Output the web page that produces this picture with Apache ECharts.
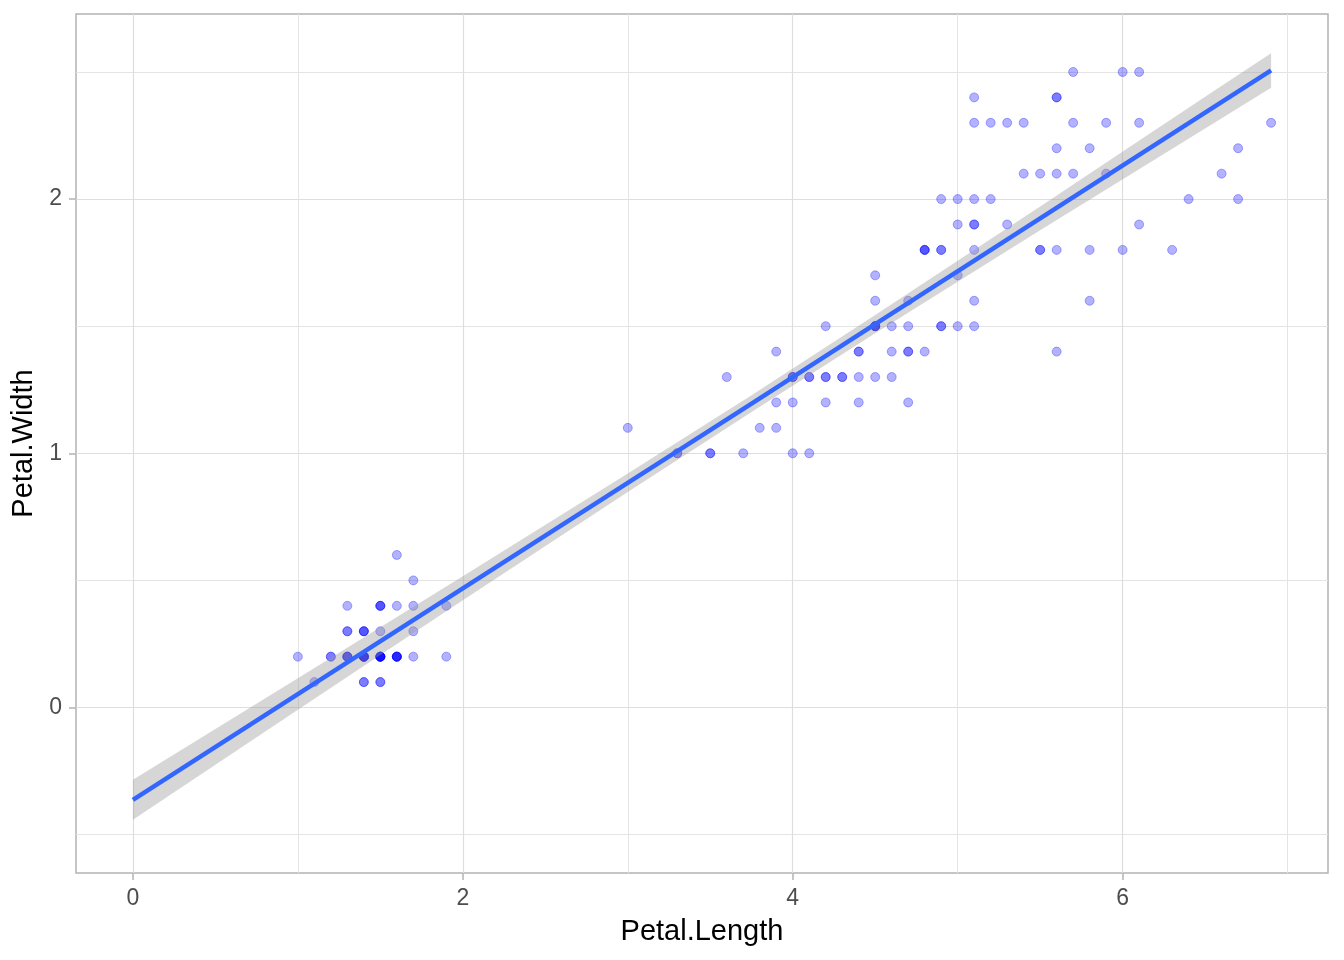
<!DOCTYPE html>
<html>
<head>
<meta charset="utf-8">
<script src="https://cdn.jsdelivr.net/npm/echarts@6/dist/echarts.min.js"></script>
<style>html,body{margin:0;padding:0;background:#fff}#chart{width:1344px;height:960px}</style>
</head>
<body>
<div id="chart"></div>
<script>
// iris: Petal.Length / Petal.Width
const petalLength = [
  1.4,1.4,1.3,1.5,1.4,1.7,1.4,1.5,1.4,1.5,
  1.5,1.6,1.4,1.1,1.2,1.5,1.3,1.4,1.7,1.5,
  1.7,1.5,1.0,1.7,1.9,1.6,1.6,1.5,1.4,1.6,
  1.6,1.5,1.5,1.4,1.5,1.2,1.3,1.4,1.3,1.5,
  1.3,1.3,1.3,1.6,1.9,1.4,1.6,1.4,1.5,1.4,
  4.7,4.5,4.9,4.0,4.6,4.5,4.7,3.3,4.6,3.9,
  3.5,4.2,4.0,4.7,3.6,4.4,4.5,4.1,4.5,3.9,
  4.8,4.0,4.9,4.7,4.3,4.4,4.8,5.0,4.5,3.5,
  3.8,3.7,3.9,5.1,4.5,4.5,4.7,4.4,4.1,4.0,
  4.4,4.6,4.0,3.3,4.2,4.2,4.2,4.3,3.0,4.1,
  6.0,5.1,5.9,5.6,5.8,6.6,4.5,6.3,5.8,6.1,
  5.1,5.3,5.5,5.0,5.1,5.3,5.5,6.7,6.9,5.0,
  5.7,4.9,6.7,4.9,5.7,6.0,4.8,4.9,5.6,5.8,
  6.1,6.4,5.6,5.1,5.6,6.1,5.6,5.5,4.8,5.4,
  5.6,5.1,5.1,5.9,5.7,5.2,5.0,5.2,5.4,5.1
];
const petalWidth = [
  0.2,0.2,0.2,0.2,0.2,0.4,0.3,0.2,0.2,0.1,
  0.2,0.2,0.1,0.1,0.2,0.4,0.4,0.3,0.3,0.3,
  0.2,0.4,0.2,0.5,0.2,0.2,0.4,0.2,0.2,0.2,
  0.2,0.4,0.1,0.2,0.2,0.2,0.2,0.1,0.2,0.2,
  0.3,0.3,0.2,0.6,0.4,0.3,0.2,0.2,0.2,0.2,
  1.4,1.5,1.5,1.3,1.5,1.3,1.6,1.0,1.3,1.4,
  1.0,1.5,1.0,1.4,1.3,1.4,1.5,1.0,1.5,1.1,
  1.8,1.3,1.5,1.2,1.3,1.4,1.4,1.7,1.5,1.0,
  1.1,1.0,1.2,1.6,1.5,1.6,1.5,1.3,1.3,1.3,
  1.2,1.4,1.2,1.0,1.3,1.2,1.3,1.3,1.1,1.3,
  2.5,1.9,2.1,1.8,2.2,2.1,1.7,1.8,1.8,2.5,
  2.0,1.9,2.1,2.0,2.4,2.3,1.8,2.2,2.3,1.5,
  2.3,2.0,2.0,1.8,2.1,1.8,1.8,1.8,2.1,1.6,
  1.9,2.0,2.2,1.5,1.4,2.3,2.4,1.8,1.8,2.1,
  2.4,2.3,1.9,2.3,2.5,2.3,1.9,2.0,2.3,1.8
];
// linear fit with 95% confidence band
const fitX     = [0, 1, 2, 3, 3.76, 4.5, 5.5, 6.5, 6.9];
const fitY     = [-0.363, 0.053, 0.469, 0.884, 1.199, 1.508, 1.924, 2.340, 2.506];
const fitLower = [-0.442, -0.009, 0.422, 0.848, 1.166, 1.472, 1.877, 2.278, 2.438];
const fitUpper = [-0.284, 0.115, 0.516, 0.920, 1.232, 1.544, 1.971, 2.402, 2.574];
// axis ticks
const xTicks = [0, 2, 4, 6];
const xMinor = [1, 3, 5, 7];
const yTicks = [0, 1, 2];
const yMinor = [-0.5, 0.5, 1.5, 2.5];

const X_MIN = -0.345, X_MAX = 7.245, Y_MIN = -0.651, Y_MAX = 2.728;
const FONT = "'Liberation Sans', Arial, sans-serif";
const gridLine = {show: true, lineStyle: {color: '#dedede', width: 1.2}};
const minorLine = {show: true, lineStyle: {color: '#e4e4e4', width: 1}};
const tickStyle = {color: '#b3b3b3', width: 1.5};

const chart = echarts.init(document.getElementById('chart'), null, {renderer: 'canvas'});
chart.setOption({
  animation: false,
  backgroundColor: '#ffffff',
  grid: {left: 76, right: 16, top: 14, bottom: 87, show: true, borderColor: '#b3b3b3', borderWidth: 1.5, backgroundColor: 'transparent', containLabel: false},
  xAxis: [
    {
      type: 'value', min: X_MIN, max: X_MAX, position: 'bottom',
      axisLine: {show: false, onZero: false},
      axisTick: {show: true, inside: false, customValues: xTicks, length: 7, lineStyle: tickStyle},
      axisLabel: {customValues: xTicks, color: '#4d4d4d', fontSize: 23, fontFamily: FONT, margin: 14},
      splitLine: gridLine,
      name: 'Petal.Length', nameLocation: 'middle', nameGap: 44,
      nameTextStyle: {color: '#000', fontSize: 29, fontFamily: FONT}
    },
    {
      type: 'value', min: X_MIN, max: X_MAX, position: 'top',
      axisLine: {show: false, onZero: false},
      axisTick: {show: false, customValues: xMinor},
      axisLabel: {show: false, customValues: xMinor},
      splitLine: minorLine
    }
  ],
  yAxis: [
    {
      type: 'value', min: Y_MIN, max: Y_MAX, position: 'left',
      axisLine: {show: false, onZero: false},
      axisTick: {show: true, inside: false, customValues: yTicks, length: 7, lineStyle: tickStyle},
      axisLabel: {customValues: yTicks, color: '#4d4d4d', fontSize: 23, fontFamily: FONT, margin: 14},
      splitLine: gridLine,
      name: 'Petal.Width', nameLocation: 'middle', nameGap: 31, nameRotate: 90,
      nameTextStyle: {color: '#000', fontSize: 29, fontFamily: FONT}
    },
    {
      type: 'value', min: Y_MIN, max: Y_MAX, position: 'right',
      axisLine: {show: false, onZero: false},
      axisTick: {show: false, customValues: yMinor},
      axisLabel: {show: false, customValues: yMinor},
      splitLine: minorLine
    }
  ],
  series: [
    {
      type: 'scatter',
      xAxisIndex: 0, yAxisIndex: 0,
      data: petalLength.map((x, i) => [x, petalWidth[i]]),
      symbol: 'circle', symbolSize: 9,
      itemStyle: {color: 'rgba(0,0,255,0.3)', borderColor: 'rgba(0,0,255,0.3)', borderWidth: 1, opacity: 1},
      emphasis: {disabled: true},
      z: 3
    },
    {
      type: 'custom',
      xAxisIndex: 0, yAxisIndex: 0,
      data: fitX.map((x, i) => [x, fitLower[i], fitUpper[i]]),
      encode: {x: 0, y: [1, 2]},
      renderItem: function (params, api) {
        if (params.dataIndex !== 0) return null;
        const pts = [];
        for (let i = 0; i < fitX.length; i++) pts.push(api.coord([fitX[i], fitUpper[i]]));
        for (let i = fitX.length - 1; i >= 0; i--) pts.push(api.coord([fitX[i], fitLower[i]]));
        return {type: 'polygon', shape: {points: pts}, style: {fill: 'rgba(153,153,153,0.4)'}};
      },
      silent: true,
      z: 4
    },
    {
      type: 'line',
      xAxisIndex: 0, yAxisIndex: 0,
      data: fitX.map((x, i) => [x, fitY[i]]),
      symbol: 'none',
      lineStyle: {color: '#3366FF', width: 4.5},
      silent: true,
      z: 5
    }
  ]
});
</script>
</body>
</html>
